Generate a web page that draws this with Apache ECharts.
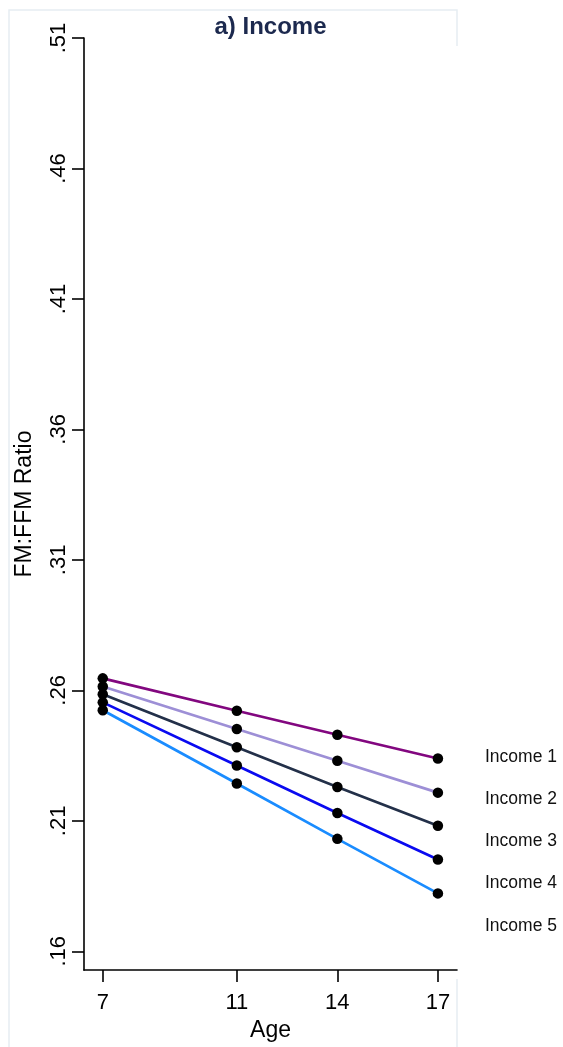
<!DOCTYPE html>
<html>
<head>
<meta charset="utf-8">
<script src="https://cdn.jsdelivr.net/npm/echarts@6/dist/echarts.min.js"></script>
<style>
  html, body { margin: 0; padding: 0; background: #ffffff; }
  #chart { width: 563px; height: 1047px; }
</style>
</head>
<body>
<div id="chart"></div>
<script>
// Age at each measurement wave
const ages = [7, 11, 14, 17];

// Income groups (1 = highest) and their fat-mass : fat-free-mass ratio by age
const groupNames = ['Income 1', 'Income 2', 'Income 3', 'Income 4', 'Income 5'];
const income1 = [0.2646, 0.2522, 0.2430, 0.2339];
const income2 = [0.2615, 0.2452, 0.2330, 0.2208];
const income3 = [0.2585, 0.2382, 0.2230, 0.2081];
const income4 = [0.2554, 0.2312, 0.2130, 0.1952];
const income5 = [0.2524, 0.2243, 0.2031, 0.1822];
const groupValues = [income1, income2, income3, income4, income5];
const groupColors = ['#82077f', '#9d8fd6', '#233049', '#0a0af0', '#1a8cff'];

// Axis tick values
const xTicks = [7, 11, 14, 17];
const yTicks = [0.16, 0.21, 0.26, 0.31, 0.36, 0.41, 0.46, 0.51];

const font = '"Liberation Sans", Arial, sans-serif';

const series = groupNames.map((name, i) => ({
  name: name,
  type: 'line',
  data: ages.map((a, j) => [a, groupValues[i][j]]),
  lineStyle: { color: groupColors[i], width: 2.7 },
  itemStyle: { color: '#000000' },
  symbol: 'circle',
  symbolSize: 10.5,
  showSymbol: true,
  z: 3 + i,
  emphasis: { disabled: true },
  silent: true
}));

const chart = echarts.init(document.getElementById('chart'), null, { renderer: 'canvas' });
chart.setOption({
  backgroundColor: '#ffffff',
  animation: false,
  title: {
    text: 'a) Income',
    left: 265.5,
    textAlign: 'center',
    top: 10,
    textStyle: { fontFamily: font, fontSize: 24, fontWeight: 'bold', color: '#1c294e' }
  },
  legend: {
    data: groupNames,
    orient: 'vertical',
    left: 475,
    top: 742,
    icon: 'none',
    itemWidth: 0,
    itemHeight: 0,
    itemGap: 22.2,
    selectedMode: false,
    textStyle: { fontFamily: font, fontSize: 17.5, color: '#111111', lineHeight: 20 }
  },
  grid: { left: 84, right: 106, top: 38, bottom: 70, containLabel: false },
  xAxis: {
    type: 'value',
    min: 6.44,
    max: 17.57,
    name: 'Age',
    nameLocation: 'middle',
    nameGap: 43,
    nameTextStyle: { fontFamily: font, fontSize: 23, color: '#000000' },
    axisLine: { show: true, onZero: false, lineStyle: { color: '#000000', width: 1.6 } },
    axisTick: { show: true, length: 12, lineStyle: { color: '#000000', width: 1.6 }, customValues: xTicks },
    axisLabel: { fontFamily: font, fontSize: 22, color: '#000000', margin: 22, customValues: xTicks },
    splitLine: { show: false }
  },
  yAxis: {
    type: 'value',
    min: 0.1528,
    max: 0.51,
    name: 'FM:FFM Ratio',
    nameLocation: 'middle',
    nameGap: 48,
    nameRotate: 90,
    nameTextStyle: { fontFamily: font, fontSize: 23, color: '#000000' },
    axisLine: { show: true, onZero: false, lineStyle: { color: '#000000', width: 1.6 } },
    axisTick: { show: true, length: 12, lineStyle: { color: '#000000', width: 1.6 }, customValues: yTicks },
    axisLabel: {
      fontFamily: font, fontSize: 22, color: '#000000', rotate: 90, margin: 14,
      customValues: yTicks,
      formatter: v => v.toFixed(2).replace(/^0/, '')
    },
    splitLine: { show: false }
  },
  graphic: [
    {
      type: 'polyline',
      silent: true,
      z: -1,
      shape: { points: [[9, 1047], [9, 10], [457, 10], [457, 46]] },
      style: { stroke: '#e6edf2', lineWidth: 1.5, fill: null }
    },
    {
      type: 'line',
      silent: true,
      z: -1,
      shape: { x1: 457, y1: 979, x2: 457, y2: 1047 },
      style: { stroke: '#e6edf2', lineWidth: 1.5 }
    }
  ],
  series: series
});
</script>
</body>
</html>
